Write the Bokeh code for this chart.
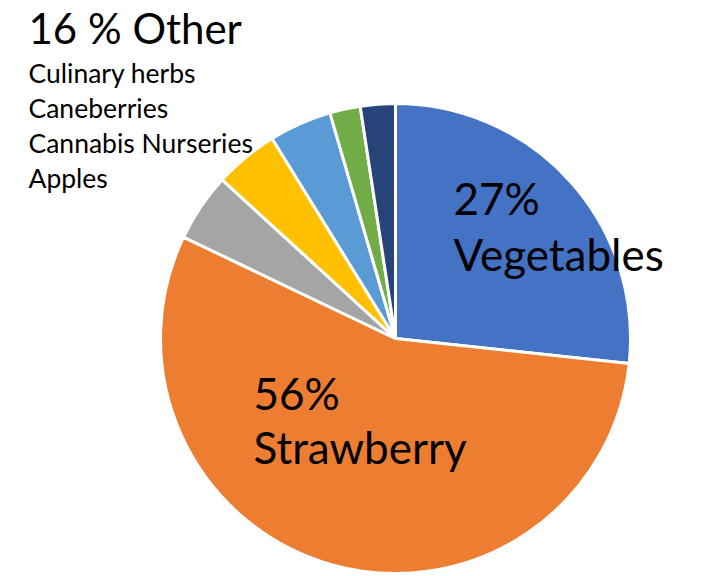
import numpy as np
from bokeh.plotting import figure
from bokeh.models import ColumnDataSource
from bokeh.core.properties import value
from bokeh.embed import file_html
from bokeh.resources import INLINE

categories = ["Vegetables", "Strawberry", "Apples", "Cannabis Nurseries", "Caneberries", "Culinary herbs", "Other small"]
shares = [26.7, 55.4, 4.7, 4.4, 4.3, 2.1, 2.4]
colors = ["#4472C4", "#ED7D31", "#A5A5A5", "#FFC000", "#5B9BD5", "#70AD47", "#264478"]
pct_labels = ["27%", "56%"]
other_title = "16 % Other"
other_items = ["Culinary herbs", "Caneberries", "Cannabis Nurseries", "Apples"]

W, H = 705, 576

def px(x):
    return x

def py(y):
    return H - y

vals = np.array(shares, dtype=float)
frac = vals / vals.sum()
cum = np.concatenate([[0.0], np.cumsum(frac)])
end_a = np.pi / 2 - cum[:-1] * 2 * np.pi
start_a = np.pi / 2 - cum[1:] * 2 * np.pi

src = ColumnDataSource(dict(cat=categories, start=start_a, end=end_a, color=colors))

p = figure(width=W, height=H, x_range=(0, W), y_range=(0, H),
           output_backend="svg", toolbar_location=None, min_border=0)
p.axis.visible = False
p.grid.visible = False
p.outline_line_color = None
p.background_fill_color = "white"

cx, cy, r = px(395), py(338), 235
p.wedge(x=cx, y=cy, radius=r, start_angle="start", end_angle="end",
        fill_color="color", line_color="white", line_width=3, source=src)

font = value("Lato")

def label(xs, ys, texts, size):
    off = 0.34 * size
    p.text(x=[px(x) for x in xs], y=[py(y - off) for y in ys], text=texts,
           text_font=font, text_font_size=f"{size}px",
           text_baseline="alphabetic", text_color="black")

label([28], [42], [other_title], 42)
label([28] * 4, [82, 117, 152, 187], other_items, 26.5)
label([453, 453], [212, 268], [pct_labels[0], categories[0]], 44)
label([253, 253], [407, 461], [pct_labels[1], categories[1]], 44)

open("out.html", "w").write(file_html(p, INLINE))
